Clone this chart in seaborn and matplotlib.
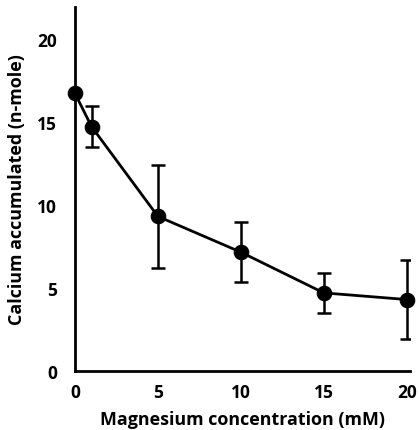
import numpy as np
import pandas as pd
import seaborn as sns
import matplotlib
matplotlib.use("Agg")
import matplotlib.pyplot as plt

# Calcium uptake versus magnesium concentration
mg_conc = [0, 1, 5, 10, 15, 20]
calcium = [16.7, 14.7, 9.3, 7.15, 4.7, 4.3]
sem = [0.0, 1.25, 3.1, 1.8, 1.2, 2.35]

x_ticks = [0, 5, 10, 15, 20]
y_ticks = [0, 5, 10, 15, 20]

sns.set_theme(style="white")
plt.rcParams["font.family"] = ["Open Sans", "DejaVu Sans"]
plt.rcParams["font.weight"] = "bold"

df = pd.DataFrame({"mg": mg_conc, "ca": calcium, "err": sem})

fig = plt.figure(figsize=(4.2, 4.31), dpi=100)
ax = fig.add_axes([75 / 420, 1 - 372 / 431, (410 - 75) / 420, (372 - 8) / 431])

ax.errorbar(df["mg"], df["ca"], yerr=df["err"], fmt="none", ecolor="black",
            elinewidth=1.8, capsize=4.8, capthick=1.8, zorder=2)
sns.lineplot(data=df, x="mg", y="ca", ax=ax, color="black", linewidth=2.0,
             marker="o", markersize=10.5, markeredgecolor="black",
             markerfacecolor="black", zorder=3, clip_on=False)

ax.set_xlim(0, 20.2)
ax.set_ylim(0, 21.9)
ax.set_xticks(x_ticks)
ax.set_yticks(y_ticks)

for side in ["top", "right"]:
    ax.spines[side].set_visible(False)
for side in ["left", "bottom"]:
    ax.spines[side].set_linewidth(2.0)
    ax.spines[side].set_color("black")

ax.tick_params(axis="both", direction="in", length=8, width=2.0,
               color="black", labelsize=12.5, labelcolor="black")
ax.tick_params(axis="y", pad=13)
ax.tick_params(axis="x", pad=9)
for lab in ax.get_xticklabels() + ax.get_yticklabels():
    lab.set_fontweight("bold")

ax.set_xlabel("Magnesium concentration (mM)", fontsize=12.9, fontweight="bold",
              color="black", labelpad=6)
ax.set_ylabel("Calcium accumulated (n-mole)", fontsize=12.9, fontweight="bold",
              color="black", labelpad=8)

fig.savefig("out.png", dpi=100)
